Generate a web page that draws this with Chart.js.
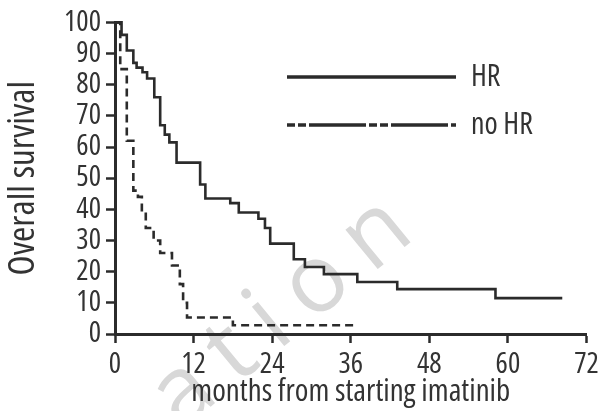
<!DOCTYPE html>
<html lang="en">
<head>
<meta charset="UTF-8">
<title>Overall survival - HR vs no HR</title>
<script src="https://cdn.jsdelivr.net/npm/chart.js@4.4.0/dist/chart.umd.min.js"></script>
<style>
    html, body {
        margin: 0;
        padding: 0;
        background: #ffffff;
    }
    #wrap {
        width: 603px;
        height: 411px;
    }
</style>
</head>
<body>
<div id="wrap"><canvas id="survChart" width="603" height="411"></canvas></div>

<script>
    // Kaplan-Meier steps (months, % alive)
    const hrMonths   = [0, 1.0, 1.8, 2.8, 3.3, 4.2, 4.9, 6.0, 6.9, 7.6, 8.3, 9.4, 13.0, 13.8, 17.6, 18.9, 21.9, 22.9, 23.7, 27.3, 29.0, 31.9, 37.0, 43.1, 58.1, 68.3];
    const hrSurvival = [100, 96, 91, 87, 85.5, 84, 82, 76, 67, 64, 61.5, 55, 48, 43.5, 42, 39, 37, 34, 29, 24, 21.5, 19.2, 16.7, 14.4, 11.5, 11.5];

    const noHrMonths   = [0, 0.8, 1.8, 2.8, 3.5, 4.1, 4.7, 5.9, 6.9, 8.7, 9.9, 10.4, 11.0, 18.0, 36.5];
    const noHrSurvival = [100, 85, 62, 46, 44, 39, 34, 30, 26, 22, 16, 10, 5.3, 2.8, 2.8];

    const seriesLabels = ['HR', 'no HR'];
    const xTicks = [0, 12, 24, 36, 48, 60, 72];
    const yTicks = [0, 10, 20, 30, 40, 50, 60, 70, 80, 90, 100];
    const xTitle = 'months from starting imatinib';
    const yTitle = 'Overall survival';
    const watermark = 'ation';

    const INK = '#2b2b2b';
    const TEXT = '#333333';
    const FAMILY = "'Open Sans', 'Liberation Sans', sans-serif";
    // font-stretch keyword goes in the font shorthand before the size
    const NARROW = 'condensed';

    function toPoints(xs, ys) {
        return xs.map((x, i) => ({ x: x, y: ys[i] }));
    }

    // faint diagonal watermark behind the plot
    const watermarkPlugin = {
        id: 'watermark',
        beforeDraw(chart) {
            const ctx = chart.ctx;
            const size = 95;
            ctx.save();
            ctx.translate(164, 412);
            ctx.rotate(-39.5 * Math.PI / 180);
            ctx.font = size + 'px ' + FAMILY;
            ctx.letterSpacing = '20px';
            ctx.fillStyle = '#d8d8d8';
            ctx.textBaseline = 'alphabetic';
            ctx.fillText(watermark, 0, size * 0.27);
            ctx.restore();
        }
    };

    // legend with long line samples, top right
    const legendPlugin = {
        id: 'lineLegend',
        afterDraw(chart) {
            const ctx = chart.ctx;
            const rows = [
                { y: 77, dash: [] },
                { y: 125, dash: [8, 3, 8, 3, 57, 3] }
            ];
            ctx.save();
            rows.forEach((r, i) => {
                ctx.beginPath();
                ctx.setLineDash(r.dash);
                ctx.lineWidth = 3.5;
                ctx.strokeStyle = INK;
                ctx.moveTo(287, r.y);
                ctx.lineTo(456, r.y);
                ctx.stroke();
                ctx.setLineDash([]);
                ctx.font = NARROW + ' 30px ' + FAMILY;
                ctx.fillStyle = TEXT;
                ctx.textBaseline = 'middle';
                ctx.fillText(seriesLabels[i], 471, r.y);
            });
            ctx.restore();
        }
    };

    const tickFont = { family: FAMILY, weight: NARROW, size: 29 };
    const tickGrid = {
        drawOnChartArea: false,
        drawTicks: true,
        tickLength: 9,
        tickWidth: 2.5,
        tickColor: INK
    };

    const ctx = document.getElementById('survChart').getContext('2d');
    const survChart = new Chart(ctx, {
        type: 'line',
        data: {
            datasets: [{
                label: seriesLabels[0],
                data: toPoints(hrMonths, hrSurvival),
                borderColor: INK,
                borderWidth: 2.6,
                stepped: 'before',
                pointRadius: 0,
                fill: false,
                clip: false
            }, {
                label: seriesLabels[1],
                data: toPoints(noHrMonths, noHrSurvival),
                borderColor: INK,
                borderWidth: 2.6,
                borderDash: [8, 5],
                stepped: 'before',
                pointRadius: 0,
                fill: false,
                clip: false
            }]
        },
        options: {
            responsive: false,
            animation: false,
            layout: {
                padding: { top: 19.5, right: 16.5, bottom: 0, left: 0 }
            },
            plugins: {
                legend: { display: false },
                tooltip: { enabled: false }
            },
            scales: {
                x: {
                    type: 'linear',
                    min: 0,
                    max: 72,
                    afterBuildTicks: s => { s.ticks = xTicks.map(v => ({ value: v })); },
                    afterFit: s => { s.height = 77; },
                    ticks: {
                        color: TEXT,
                        font: tickFont,
                        padding: 4,
                        autoSkip: false,
                        maxRotation: 0
                    },
                    grid: tickGrid,
                    border: { color: INK, width: 3 },
                    title: {
                        display: true,
                        text: xTitle,
                        color: TEXT,
                        font: { family: FAMILY, weight: NARROW, size: 31 },
                        padding: { top: 0, bottom: 0 }
                    }
                },
                y: {
                    min: 0,
                    max: 100,
                    afterBuildTicks: s => { s.ticks = yTicks.map(v => ({ value: v })); },
                    afterFit: s => { s.width = 115; },
                    ticks: {
                        color: TEXT,
                        font: tickFont,
                        padding: 5,
                        autoSkip: false
                    },
                    grid: tickGrid,
                    border: { color: INK, width: 3 },
                    title: {
                        display: true,
                        text: yTitle,
                        color: TEXT,
                        font: { family: FAMILY, weight: NARROW, size: 37 },
                        padding: { top: 1, bottom: 0 }
                    }
                }
            }
        },
        plugins: [watermarkPlugin, legendPlugin]
    });
</script>
</body>
</html>
